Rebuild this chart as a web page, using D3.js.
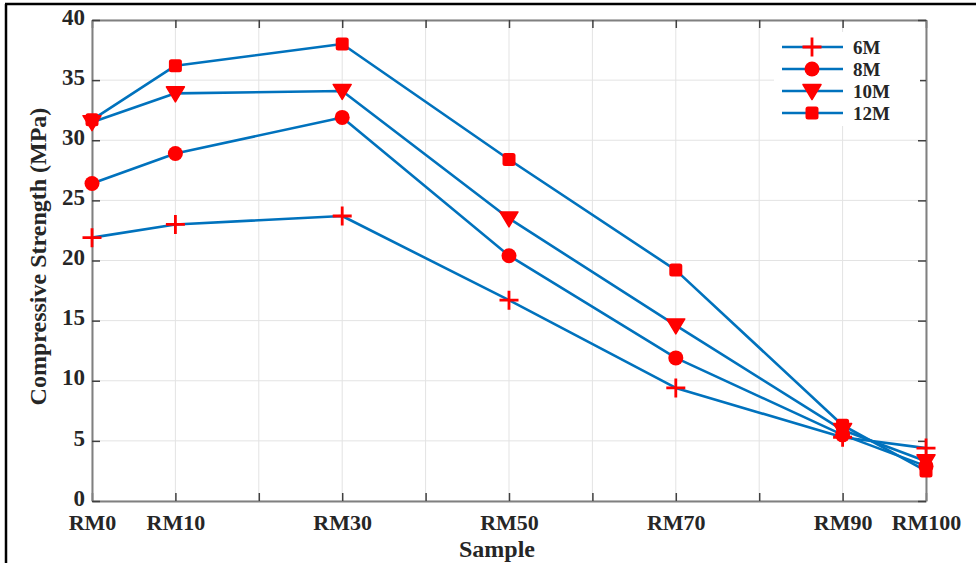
<!DOCTYPE html>
<html>
<head>
<meta charset="utf-8">
<script src="https://cdn.jsdelivr.net/npm/d3@7/dist/d3.min.js"></script>
<style>
  html, body { margin: 0; padding: 0; background: #fff; }
  svg { display: block; }
  text { font-family: "Liberation Serif", "Times New Roman", serif; font-weight: bold; fill: #262626; }
</style>
</head>
<body>
<svg id="chart" width="976" height="563"></svg>
<script>
// Sample names and their RM replacement level (%), used as x positions
const samples = ["RM0", "RM10", "RM30", "RM50", "RM70", "RM90", "RM100"];
const replacement = [0, 10, 30, 50, 70, 90, 100];

// Compressive strength (MPa) for each molarity
const strength6M  = [21.9, 23.0, 23.7, 16.7, 9.4, 5.3, 4.4];
const strength8M  = [26.4, 28.9, 31.9, 20.4, 11.9, 5.5, 2.9];
const strength10M = [31.5, 33.9, 34.1, 23.5, 14.6, 5.9, 3.3];
const strength12M = [31.7, 36.2, 38.0, 28.4, 19.2, 6.3, 2.5];

const seriesNames = ["6M", "8M", "10M", "12M"];
const seriesMarkers = ["plus", "circle", "triangle", "square"];
const yTicks = [0, 5, 10, 15, 20, 25, 30, 35, 40];
const xTicks = [0, 10, 20, 30, 40, 50, 60, 70, 80, 90, 100];

const series = [strength6M, strength8M, strength10M, strength12M].map((vals, i) => ({
  name: seriesNames[i],
  marker: seriesMarkers[i],
  points: vals.map((v, j) => ({ x: replacement[j], y: v }))
}));

const lineColor = "#0072BD";
const markColor = "#FF0000";

const svg = d3.select("#chart");
const plot = { left: 92, right: 926, top: 20, bottom: 501 };

const x = d3.scaleLinear().domain([0, 100]).range([plot.left, plot.right]);
const y = d3.scaleLinear().domain([0, 40]).range([plot.bottom, plot.top]);

// outer frame
svg.append("line").attr("x1", 5).attr("x2", 976).attr("y1", 4).attr("y2", 4)
  .attr("stroke", "#000").attr("stroke-width", 2.5);
svg.append("line").attr("x1", 6).attr("x2", 6).attr("y1", 4).attr("y2", 563)
  .attr("stroke", "#000").attr("stroke-width", 2.5);

// grid
const grid = svg.append("g");
grid.selectAll("line.gx").data(xTicks).join("line")
  .attr("x1", d => x(d)).attr("x2", d => x(d))
  .attr("y1", plot.top).attr("y2", plot.bottom)
  .attr("stroke", "#e3e3e3").attr("stroke-width", 1);
grid.selectAll("line.gy").data(yTicks).join("line")
  .attr("y1", d => y(d)).attr("y2", d => y(d))
  .attr("x1", plot.left).attr("x2", plot.right)
  .attr("stroke", "#e3e3e3").attr("stroke-width", 1);

// axes with inward ticks on all four sides
const axisColor = "#808080";
const tickLen = 8;
const xLabelFor = d => { const i = replacement.indexOf(d); return i >= 0 ? samples[i] : ""; };

const gBottom = svg.append("g").attr("transform", `translate(0,${plot.bottom})`)
  .call(d3.axisBottom(x).tickValues(xTicks).tickSizeInner(-tickLen).tickSizeOuter(0).tickPadding(18).tickFormat(xLabelFor));
const gTop = svg.append("g").attr("transform", `translate(0,${plot.top})`)
  .call(d3.axisTop(x).tickValues(xTicks).tickSizeInner(-tickLen).tickSizeOuter(0).tickFormat(""));
const gLeft = svg.append("g").attr("transform", `translate(${plot.left},0)`)
  .call(d3.axisLeft(y).tickValues(yTicks).tickSizeInner(-tickLen).tickSizeOuter(0).tickPadding(7).tickFormat(d3.format("d")));
const gRight = svg.append("g").attr("transform", `translate(${plot.right},0)`)
  .call(d3.axisRight(y).tickValues(yTicks).tickSizeInner(-tickLen).tickSizeOuter(0).tickFormat(""));

[gBottom, gTop, gLeft, gRight].forEach(g => {
  g.select(".domain").attr("stroke", axisColor).attr("stroke-width", 2);
  g.selectAll(".tick line").attr("stroke", "#404040").attr("stroke-width", 1.5);
  g.selectAll("text").attr("fill", "#222")
    .style("font-family", "'Liberation Serif', serif").style("font-weight", "bold");
});
gBottom.selectAll(".tick text").style("font-size", "22px").attr("dy", "0.5em");
gLeft.selectAll(".tick text").style("font-size", "23px").attr("dy", "0.18em");

// axis titles
svg.append("text").attr("x", 497).attr("y", 557).attr("text-anchor", "middle")
  .style("font-size", "24px").attr("fill", "#222").text("Sample");
svg.append("text").attr("transform", `translate(46,${(plot.top + plot.bottom) / 2 - 4}) rotate(-90)`)
  .attr("text-anchor", "middle").style("font-size", "24px").attr("fill", "#222").text("Compressive Strength (MPa)");

// marker drawing
function drawMarker(sel, kind) {
  if (kind === "plus") {
    sel.append("path").attr("d", "M-9.5,0H9.5M0,-9.5V9.5")
      .attr("stroke", markColor).attr("stroke-width", 2.8).attr("fill", "none");
  } else if (kind === "circle") {
    sel.append("circle").attr("r", 7.5).attr("fill", markColor);
  } else if (kind === "triangle") {
    sel.append("path").attr("d", "M-9,-6.5L9,-6.5L0,8.5Z").attr("fill", markColor)
      .attr("stroke", markColor).attr("stroke-width", 1.5).attr("stroke-linejoin", "round");
  } else if (kind === "square") {
    sel.append("rect").attr("x", -6.5).attr("y", -6.5).attr("width", 13).attr("height", 13)
      .attr("rx", 2.5).attr("fill", markColor);
  }
}

// series lines and markers
const line = d3.line().x(d => x(d.x)).y(d => y(d.y));
const gSeries = svg.append("g");
series.forEach(s => {
  gSeries.append("path").datum(s.points).attr("d", line)
    .attr("fill", "none").attr("stroke", lineColor).attr("stroke-width", 2.6)
    .attr("stroke-linejoin", "round");
});
series.forEach(s => {
  gSeries.selectAll(null).data(s.points).join("g")
    .attr("transform", d => `translate(${x(d.x)},${y(d.y)})`)
    .each(function () { drawMarker(d3.select(this), s.marker); });
});

// legend
const legend = svg.append("g");
legend.append("rect").attr("x", 774).attr("y", 32).attr("width", 146).attr("height", 94)
  .attr("fill", "#fff");
series.forEach((s, i) => {
  const cy = 47 + i * 22;
  legend.append("line").attr("x1", 782).attr("x2", 843).attr("y1", cy).attr("y2", cy)
    .attr("stroke", lineColor).attr("stroke-width", 2.6);
  const m = legend.append("g").attr("transform", `translate(812,${cy})`);
  drawMarker(m, s.marker);
  legend.append("text").attr("x", 853).attr("y", cy).attr("dy", "0.35em")
    .style("font-size", "19px").attr("fill", "#222").text(s.name);
});
</script>
</body>
</html>
